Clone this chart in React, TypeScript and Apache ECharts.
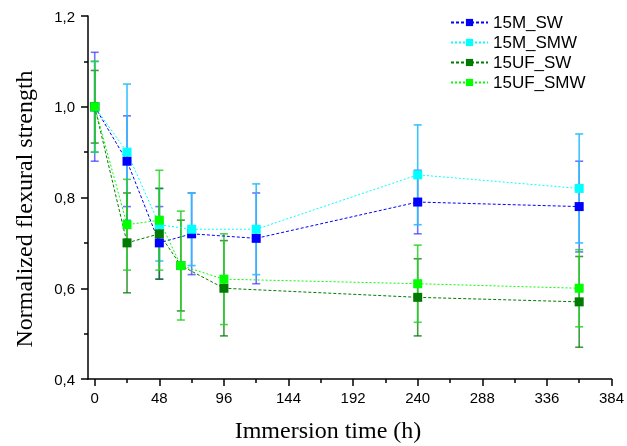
import React, { useEffect, useRef } from "react";
import * as echarts from "echarts";

const seriesNames = ["15M_SW", "15M_SMW", "15UF_SW", "15UF_SMW"];

const mSwX = [0, 24, 48, 72, 120, 240, 360];
const mSwY = [1.0, 0.88, 0.7, 0.72, 0.71, 0.79, 0.78];
const mSwErr = [0.12, 0.1, 0.08, 0.09, 0.1, 0.07, 0.1];

const mSmwX = [0, 24, 48, 72, 120, 240, 360];
const mSmwY = [1.0, 0.9, 0.74, 0.73, 0.73, 0.85, 0.82];
const mSmwErr = [0.1, 0.15, 0.08, 0.08, 0.1, 0.11, 0.12];

const ufSwX = [0, 24, 48, 64, 96, 240, 360];
const ufSwY = [1.0, 0.7, 0.72, 0.65, 0.6, 0.58, 0.57];
const ufSwErr = [0.08, 0.11, 0.1, 0.1, 0.105, 0.085, 0.1];

const ufSmwX = [0, 24, 48, 64, 96, 240, 360];
const ufSmwY = [1.0, 0.74, 0.75, 0.65, 0.62, 0.61, 0.6];
const ufSmwErr = [0.1, 0.1, 0.11, 0.12, 0.1, 0.085, 0.085];

const xMajorTicks = [0, 48, 96, 144, 192, 240, 288, 336, 384];
const xMinorTicks = [24, 72, 120, 168, 216, 264, 312, 360];

const xTitle = "Immersion time (h)";
const yTitle = "Normalized flexural strength";

const colors = ["#0000ff", "#00ffff", "#007a00", "#00ff00"];
const barColors = [
  "rgba(40,40,255,0.65)",
  "rgba(40,190,255,0.9)",
  "rgba(0,120,0,0.75)",
  "rgba(40,210,40,0.85)",
];
const dashTypes: any[] = [[3, 2], [2, 2], [3, 2], [2, 2]];

export default function App() {
  const ref = useRef<HTMLDivElement>(null);
  useEffect(() => {
    const chart = echarts.init(ref.current!, null, { renderer: "svg" });
    const xs = [mSwX, mSmwX, ufSwX, ufSmwX];
    const ys = [mSwY, mSmwY, ufSwY, ufSmwY];
    const errs = [mSwErr, mSmwErr, ufSwErr, ufSmwErr];

    const errSeries = seriesNames.map((name, i) => ({
      type: "custom",
      name: name + "_err",
      xAxisIndex: 0,
      yAxisIndex: 0,
      z: 2,
      silent: true,
      data: xs[i].map((x, k) => [x, ys[i][k] - errs[i][k], ys[i][k] + errs[i][k]]),
      encode: { x: 0, y: [1, 2] },
      renderItem: (params: any, api: any) => {
        const x = api.value(0);
        const lo = api.coord([x, api.value(1)]);
        const hi = api.coord([x, api.value(2)]);
        const w = 4;
        const st = { stroke: barColors[i], lineWidth: 1.6 };
        return {
          type: "group",
          children: [
            { type: "line", shape: { x1: lo[0], y1: lo[1], x2: hi[0], y2: hi[1] }, style: st },
            { type: "line", shape: { x1: lo[0] - w, y1: lo[1], x2: lo[0] + w, y2: lo[1] }, style: st },
            { type: "line", shape: { x1: hi[0] - w, y1: hi[1], x2: hi[0] + w, y2: hi[1] }, style: st },
          ],
        };
      },
    }));

    const lineSeries = seriesNames.map((name, i) => ({
      type: "line",
      name,
      xAxisIndex: 0,
      yAxisIndex: 0,
      z: 3,
      data: xs[i].map((x, k) => [x, ys[i][k]]),
      symbol: "rect",
      symbolSize: 9,
      itemStyle: { color: colors[i] },
      lineStyle: { color: colors[i], width: 1, type: dashTypes[i] },
    }));

    const sans = "Liberation Sans, Arial, sans-serif";
    const serif = "Liberation Serif, Times New Roman, serif";

    chart.setOption({
      animation: false,
      grid: { left: 88, right: 11, top: 16, bottom: 67, containLabel: false },
      legend: {
        data: seriesNames,
        orient: "vertical",
        left: 445,
        top: 9,
        itemWidth: 37,
        itemHeight: 9,
        itemGap: 3,
        textStyle: { fontFamily: sans, fontSize: 17, color: "#000" },
      },
      graphic: [
        {
          type: "text",
          x: 328,
          y: 430,
          style: { text: xTitle, font: `24px ${serif}`, fill: "#000", align: "center", verticalAlign: "middle" },
        },
        {
          type: "text",
          x: 24,
          y: 209,
          rotation: Math.PI / 2,
          style: { text: yTitle, font: `24px ${serif}`, fill: "#000", align: "center", verticalAlign: "middle" },
        },
      ],
      xAxis: [
        {
          type: "value",
          min: -5,
          max: 384,
          splitLine: { show: false },
          axisLine: { show: true, onZero: false, lineStyle: { color: "#000", width: 1.5 } },
          axisTick: { show: true, length: 7, customValues: xMajorTicks, lineStyle: { color: "#000", width: 1.5 } },
          axisLabel: { show: true, customValues: xMajorTicks, margin: 11, fontFamily: sans, fontSize: 15, color: "#000" },
        },
        {
          type: "value",
          min: -5,
          max: 384,
          position: "bottom",
          splitLine: { show: false },
          axisLine: { show: false, onZero: false },
          axisTick: { show: true, length: 4, customValues: xMinorTicks, lineStyle: { color: "#000", width: 1.5 } },
          axisLabel: { show: false },
        },
      ],
      yAxis: {
        type: "value",
        min: 0.4,
        max: 1.2,
        interval: 0.2,
        splitLine: { show: false },
        axisLine: { show: true, onZero: false, lineStyle: { color: "#000", width: 1.5 } },
        axisTick: { show: true, length: 7, lineStyle: { color: "#000", width: 1.5 } },
        minorTick: { show: true, splitNumber: 2, length: 4, lineStyle: { color: "#000", width: 1.5 } },
        axisLabel: {
          margin: 13,
          formatter: (v: number) => v.toFixed(1).replace(".", ","),
          fontFamily: sans,
          fontSize: 15,
          color: "#000",
        },
      },
      series: [...errSeries, ...lineSeries],
    });
    return () => chart.dispose();
  }, []);
  return <div ref={ref} style={{ position: "fixed", left: 0, top: 0, width: 627, height: 446 }} />;
}
